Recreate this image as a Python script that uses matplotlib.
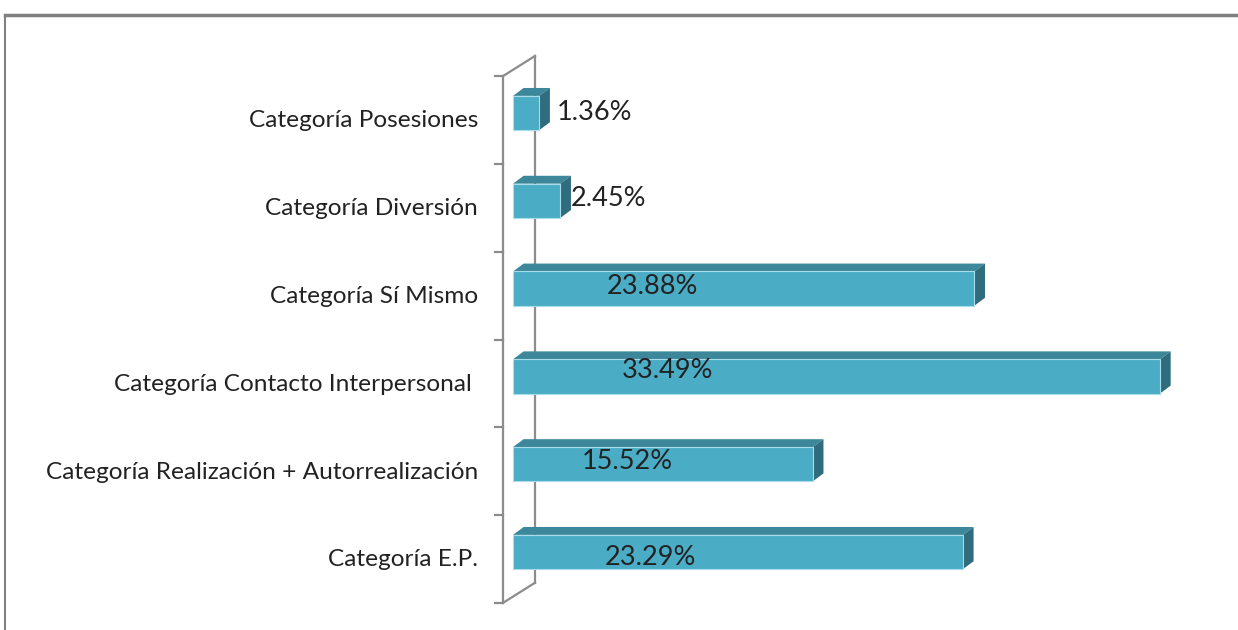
import matplotlib.pyplot as plt
from matplotlib.patches import Polygon
import numpy as np

plt.rcParams['font.family'] = ['Lato', 'DejaVu Sans']

categories = ["Categoría E.P.",
              "Categoría Realización + Autorrealización",
              "Categoría Contacto Interpersonal ",
              "Categoría Sí Mismo",
              "Categoría Diversión",
              "Categoría Posesiones"]
values = [23.29, 15.52, 33.49, 23.88, 2.45, 1.36]
value_labels = ["23.29%", "15.52%", "33.49%", "23.88%", "2.45%", "1.36%"]

FRONT = '#4BACC6'
TOP = '#3C8799'
SIDE = '#2E6C7E'
EDGE = '#A8DCEA'
WALL = '#8C8C8C'
TXT = '#222222'

# pixel scale: 19.32 px per percent, 87.8 px per category, zero at x=513
fig = plt.figure(figsize=(12.38, 6.3), dpi=100)
ax = fig.add_axes([0, 0, 1, 1])
ax.set_xlim(-513 / 19.32, (1238 - 513) / 19.32)
ax.set_ylim((552 - 630) / 87.8, 552 / 87.8)
ax.axis('off')

dx, dy = 0.55, 0.09   # bar depth
h = 0.195             # half bar height

# perspective wall (front + back edges)
ticks = np.arange(len(categories) + 1) - 0.58
fx, bx, by = -0.52, 1.14, 0.23
ax.plot([fx, fx], [ticks[0], ticks[-1]], color=WALL, lw=1.6)
ax.plot([bx, bx], [ticks[0] + by, ticks[-1] + by], color=WALL, lw=1.6)
ax.plot([fx, bx], [ticks[0], ticks[0] + by], color=WALL, lw=1.6)
ax.plot([fx, bx], [ticks[-1], ticks[-1] + by], color=WALL, lw=1.6)
for t in ticks:
    ax.plot([-0.95, fx], [t, t], color=WALL, lw=1.6)

# bars
label_x = [7.1, 5.9, 8.0, 7.2, 3.0, 2.28]
label_ha = ['center', 'center', 'center', 'center', 'left', 'left']
label_dy = [-0.06, 0.03, 0.07, 0.02, 0.03, 0.0]
for i, v in enumerate(values):
    y0, y1 = i - h, i + h
    ax.add_patch(Polygon([(0, y1), (v, y1), (v + dx, y1 + dy), (dx, y1 + dy)],
                         closed=True, fc=TOP, ec='none', zorder=3))
    ax.add_patch(Polygon([(v, y0), (v + dx, y0 + dy), (v + dx, y1 + dy), (v, y1)],
                         closed=True, fc=SIDE, ec='none', zorder=3))
    ax.add_patch(Polygon([(0, y0), (v, y0), (v, y1), (0, y1)],
                         closed=True, fc=FRONT, ec=EDGE, lw=0.8, zorder=4))
    ax.text(label_x[i], i + label_dy[i], value_labels[i], ha=label_ha[i],
            va='center', fontsize=19.5, color=TXT, zorder=5)
    ax.text(-1.81, i - 0.09, categories[i], ha='right', va='center',
            fontsize=17.6, color=TXT)

# screenshot frame
fig.add_artist(plt.Line2D([5 / 1238, 1], [1 - 15 / 630, 1 - 15 / 630],
                          color='#7f7f7f', lw=2.5))
fig.add_artist(plt.Line2D([5 / 1238, 5 / 1238], [0, 1 - 15 / 630],
                          color='#7f7f7f', lw=1.5))

fig.savefig('out.png', dpi=100, facecolor='white')
